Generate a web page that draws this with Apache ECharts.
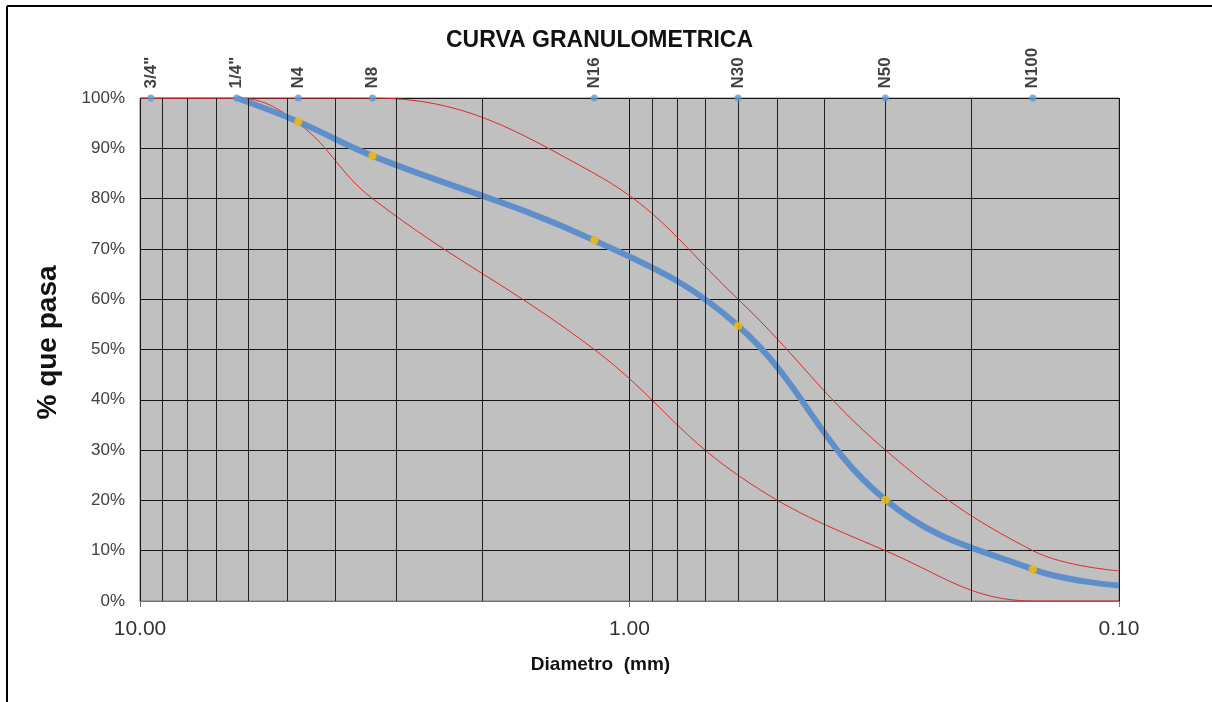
<!DOCTYPE html>
<html>
<head>
<meta charset="utf-8">
<script src="https://cdn.jsdelivr.net/npm/echarts@6/dist/echarts.min.js"></script>
<style>
html,body{margin:0;padding:0;background:#fff;}
#c{width:1212px;height:702px;}
</style>
</head>
<body>
<div id="c"></div>
<script>
// ---- data ----
const title = 'CURVA GRANULOMETRICA';
const sieveLabels = ['3/4"', '1/4"', 'N4', 'N8', 'N16', 'N30', 'N50', 'N100'];
const sieveSizes = [9.5, 6.35, 4.75, 3.35, 1.18, 0.6, 0.3, 0.15];
const passing = [100, 100, 95.3, 88.5, 71.7, 54.7, 20.1, 6.3];
const curveEndSize = 0.1;
const curveEndPassing = 3.1;
const upperSizes = [10, 4.75, 3.35, 1.18, 0.6, 0.3, 0.15, 0.1];
const upperValues = [100, 100, 100, 85, 60, 30, 10, 6];
const lowerSizes = [10, 6.35, 4.75, 3.35, 1.18, 0.6, 0.3, 0.15, 0.1];
const lowerValues = [100, 100, 95, 80, 50, 25, 10, 0, 0];
const minorGridSizes = [9, 8, 7, 6, 5, 4, 3, 2, 0.9, 0.8, 0.7, 0.6, 0.5, 0.4, 0.3, 0.2];

const FONT = '"Liberation Sans", Arial, sans-serif';
const pair = (xs, ys) => xs.map((x, i) => [x, ys[i]]);

const curveData = pair(sieveSizes.slice(1), passing.slice(1)).concat([[curveEndSize, curveEndPassing]]);
const pointData = pair(sieveSizes.slice(2), passing.slice(2));
const topData = sieveSizes.map((s, i) => ({ value: [s, 100], name: sieveLabels[i] }));

const chart = echarts.init(document.getElementById('c'), null, { renderer: 'canvas' });
chart.setOption({
  animation: false,
  backgroundColor: '#ffffff',
  textStyle: { fontFamily: FONT },
  title: {
    text: title, left: 441, top: 24,
    textStyle: { fontFamily: FONT, fontSize: 23, fontWeight: 'bold', color: '#111' }
  },
  grid: {
    left: 140, right: 93, top: 98, bottom: 101,
    show: true, backgroundColor: '#c0c0c0', borderColor: '#808080', borderWidth: 1
  },
  xAxis: {
    type: 'log', logBase: 10, min: 0.1, max: 10, inverse: true,
    name: 'Diametro  (mm)', nameLocation: 'middle', nameGap: 54,
    nameTextStyle: { fontFamily: FONT, fontSize: 19, fontWeight: 'bold', color: '#111', padding: [0, 58, 0, 0] },
    axisLine: { show: true, lineStyle: { color: '#707070', width: 1 } },
    axisTick: { show: true, length: 6, lineStyle: { color: '#707070' } },
    axisLabel: {
      margin: 18, fontSize: 21, color: '#333', fontFamily: FONT,
      formatter: v => Number(v).toFixed(2)
    },
    splitLine: { show: true, lineStyle: { color: '#151515', width: 1 } }
  },
  yAxis: {
    type: 'value', min: 0, max: 100, interval: 10,
    name: '% que pasa', nameLocation: 'middle', nameGap: 78, nameRotate: 90,
    nameTextStyle: { fontFamily: FONT, fontSize: 28, fontWeight: 'bold', color: '#111', padding: [0, 0, 0, 14] },
    axisLine: { show: false },
    axisTick: { show: false },
    axisLabel: { margin: 15, fontSize: 17, color: '#404040', fontFamily: FONT, formatter: v => v + '%' },
    splitLine: { show: true, lineStyle: { color: '#151515', width: 1 } }
  },
  graphic: [
    { type: 'line', shape: { x1: 7, y1: 6, x2: 1212, y2: 6 }, style: { stroke: '#000', lineWidth: 2 }, silent: true },
    { type: 'line', shape: { x1: 7, y1: 6, x2: 7, y2: 702 }, style: { stroke: '#000', lineWidth: 2 }, silent: true }
  ],
  series: [
    {
      name: 'grid', type: 'line', data: [], silent: true,
      markLine: {
        silent: true, symbol: 'none', label: { show: false },
        lineStyle: { color: '#202020', width: 1, type: 'solid' },
        data: minorGridSizes.map(v => ({ xAxis: v }))
      }
    },
    {
      name: 'Limite superior', type: 'line', smooth: 0.4, showSymbol: false, z: 3,
      data: pair(upperSizes, upperValues),
      lineStyle: { color: '#e02828', width: 1 }
    },
    {
      name: 'Limite inferior', type: 'line', smooth: 0.4, showSymbol: false, z: 3,
      data: pair(lowerSizes, lowerValues),
      lineStyle: { color: '#e02828', width: 1 }
    },
    {
      name: 'Curva', type: 'line', smooth: 0.4, showSymbol: false, z: 4,
      data: curveData,
      lineStyle: { color: '#5f8fca', width: 6 }
    },
    {
      name: 'Puntos', type: 'scatter', z: 5, symbol: 'circle', symbolSize: 8,
      data: pointData,
      itemStyle: { color: '#ffc000', borderColor: '#e0a800', borderWidth: 0.5 }
    },
    {
      name: 'Tamices', type: 'scatter', z: 6, symbol: 'circle', symbolSize: 7, clip: false,
      data: topData,
      itemStyle: { color: '#5b9bd5' },
      label: {
        show: true, position: 'top', rotate: 90, align: 'left', verticalAlign: 'middle',
        distance: 6, formatter: p => p.name,
        fontFamily: FONT, fontSize: 17, fontWeight: 'bold', color: '#111'
      }
    }
  ]
});
</script>
</body>
</html>
